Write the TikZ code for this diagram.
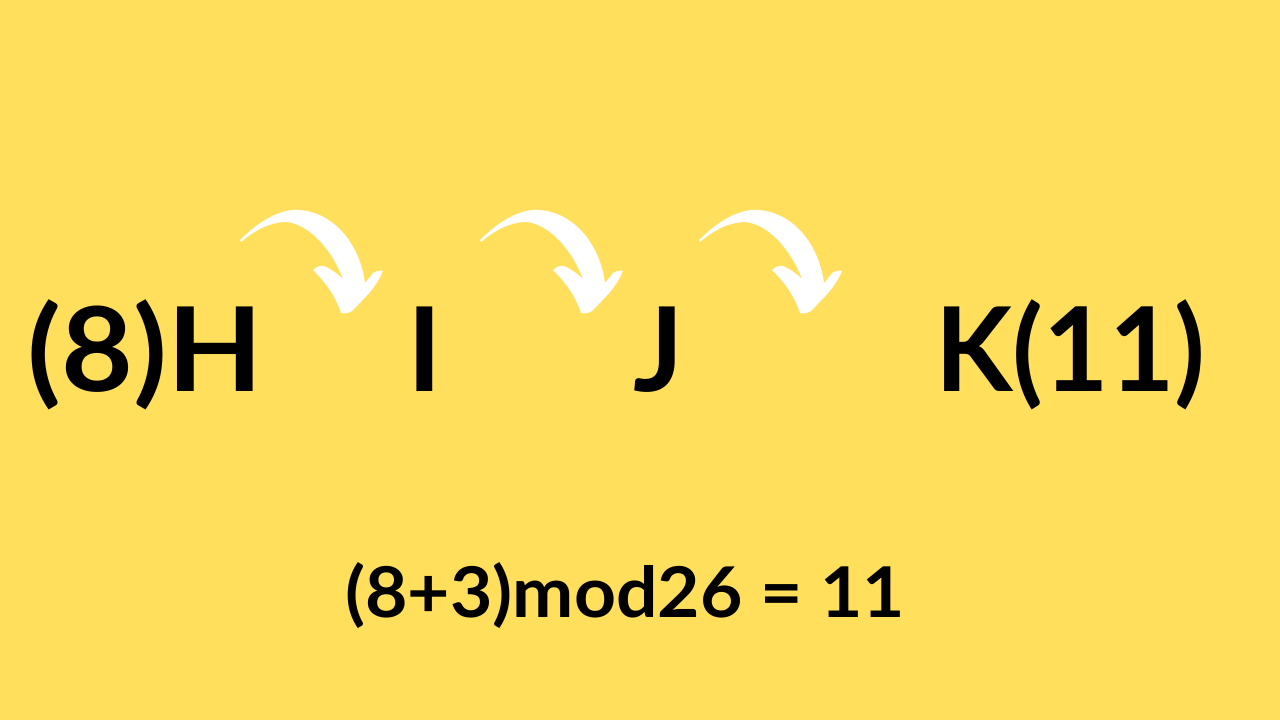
\documentclass[tikz,border=0pt]{standalone}
\usepackage{fontspec}
\setmainfont{Lato}
\definecolor{bgyellow}{HTML}{FFDF5C}
\tikzset{
  bigletter/.style={inner sep=0pt, anchor=base west, font=\fontsize{117}{125}\selectfont\bfseries, text=black},
  formula/.style={inner sep=0pt, anchor=base west, font=\fontsize{70}{78}\selectfont\bfseries, text=black},
  curlyarrow/.style={fill=white, draw=none}
}
\begin{document}
\begin{tikzpicture}[x=1pt,y=-1pt]
\fill[bgyellow] (0,0) rectangle (1280,720);
\useasboundingbox (0,0) rectangle (1280,720);
\node[bigletter] (h) at (27,391) {\scalebox{1.06}[1]{(8)H}};
\node[bigletter] (i) at (407,391) {I};
\node[bigletter] (j) at (633,391) {J};
\node[bigletter] (k) at (935,391) {\scalebox{0.965}[1]{K(11)}};
\node[formula] (eq) at (345,617) {\scalebox{1.045}[1]{(8+3)mod26 = 11}};
\foreach \dx in {0,240,459}{
  \fill[curlyarrow, shift={(\dx,0)}] (240,240) .. controls (258,222) and (280,208) .. (300,210)
    .. controls (335,213) and (360,245) .. (365,283) -- (373,273)
    .. controls (376,271) and (380,270) .. (383,271)
    .. controls (375,290) and (362,300) .. (352,311)
    .. controls (349,313) and (344,314) .. (341,313)
    .. controls (335,295) and (325,282) .. (313,270)
    .. controls (316,267) and (320,265) .. (324,266)
    .. controls (331,269) and (338,274) .. (343,279)
    .. controls (332,250) and (310,225) .. (287,222)
    .. controls (270,222) and (255,230) .. (241,242) -- cycle;
}
\end{tikzpicture}
\end{document}
